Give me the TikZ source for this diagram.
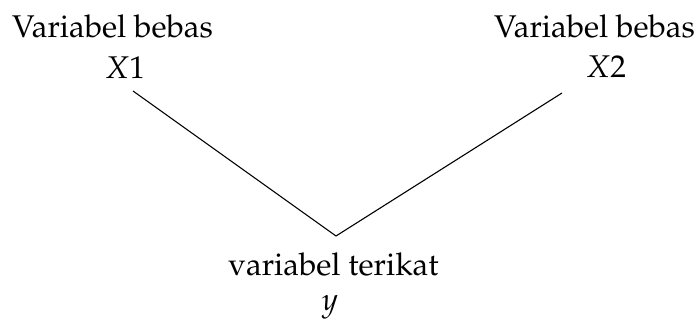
\documentclass[tikz,border=0pt]{standalone}
\usepackage[T1]{fontenc}
\usepackage{mathpazo}
\usepackage{tikz}
\usetikzlibrary{positioning}

\begin{document}
\begin{tikzpicture}[
  x=1pt, y=-1pt,
  lbl/.style={anchor=base, inner sep=0pt, font=\fontsize{31.4}{37}\selectfont},
  link/.style={line width=1.1pt}
]
\useasboundingbox (0,0) rectangle (698,324);
% bebas (left / right), terikat (bottom)
\node[lbl] (b1) at (112.5,37) {Variabel bebas};
\node[lbl] (x1) at (125,78) {$X1$};
\node[lbl] (b2) at (594.5,37) {Variabel bebas};
\node[lbl] (x2) at (606,77) {$X2$};
\node[lbl] (t) at (333.5,275) {variabel terikat};
\node[lbl] (y) at (330,310) {$y$};
\coordinate (l) at (133,91);
\coordinate (r) at (562,93);
\coordinate (v) at (336,236);
\draw[link] (l) -- (v) -- (r);
\end{tikzpicture}
\end{document}
